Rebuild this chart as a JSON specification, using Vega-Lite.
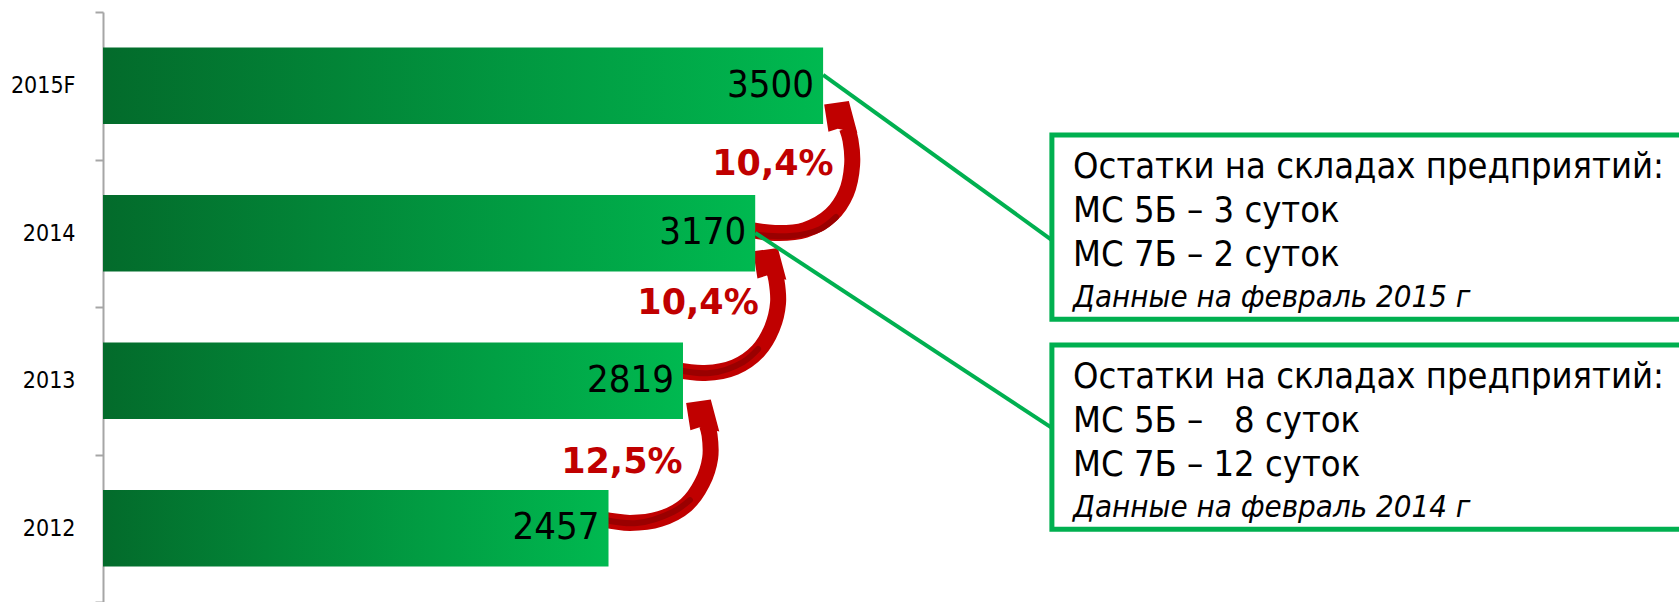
{
  "$schema": "https://vega.github.io/schema/vega-lite/v6.json",
  "width": 1576,
  "height": 590,
  "autosize": {"type": "none"},
  "padding": {"left": 103, "top": 12, "right": 0, "bottom": 0},
  "background": "white",
  "config": {"view": {"stroke": null}, "font": "DejaVu Sans Condensed, DejaVu Sans"},
  "datasets": {
    "bars": [
      {"year": "2015F", "value": 3500},
      {"year": "2014", "value": 3170},
      {"year": "2013", "value": 2819},
      {"year": "2012", "value": 2457}
    ],
    "growth": [
      {"label": "10,4%", "xv": 3256, "yu": 1.031},
      {"label": "10,4%", "xv": 2892, "yu": 1.973},
      {"label": "12,5%", "xv": 2522, "yu": 3.051}
    ],
    "arrows": [
      {"arrow": 1, "step": 0, "xv": 3120, "yu": 1.471},
      {"arrow": 1, "step": 1, "xv": 3266, "yu": 1.498},
      {"arrow": 1, "step": 2, "xv": 3412, "yu": 1.478},
      {"arrow": 1, "step": 3, "xv": 3539, "yu": 1.376},
      {"arrow": 1, "step": 4, "xv": 3612, "yu": 1.227},
      {"arrow": 1, "step": 5, "xv": 3641, "yu": 1.037},
      {"arrow": 1, "step": 6, "xv": 3633, "yu": 0.868},
      {"arrow": 1, "step": 7, "xv": 3616, "yu": 0.786},
      {"arrow": 2, "step": 0, "xv": 2780, "yu": 2.427},
      {"arrow": 2, "step": 1, "xv": 2926, "yu": 2.447},
      {"arrow": 2, "step": 2, "xv": 3072, "yu": 2.407},
      {"arrow": 2, "step": 3, "xv": 3184, "yu": 2.298},
      {"arrow": 2, "step": 4, "xv": 3252, "yu": 2.142},
      {"arrow": 2, "step": 5, "xv": 3281, "yu": 1.973},
      {"arrow": 2, "step": 6, "xv": 3273, "yu": 1.817},
      {"arrow": 2, "step": 7, "xv": 3261, "yu": 1.749},
      {"arrow": 3, "step": 0, "xv": 2416, "yu": 3.437},
      {"arrow": 3, "step": 1, "xv": 2561, "yu": 3.464},
      {"arrow": 3, "step": 2, "xv": 2707, "yu": 3.437},
      {"arrow": 3, "step": 3, "xv": 2834, "yu": 3.342},
      {"arrow": 3, "step": 4, "xv": 2912, "yu": 3.193},
      {"arrow": 3, "step": 5, "xv": 2951, "yu": 3.024},
      {"arrow": 3, "step": 6, "xv": 2948, "yu": 2.868},
      {"arrow": 3, "step": 7, "xv": 2936, "yu": 2.8}
    ],
    "shades": [
      {"arrow": 1, "step": 0, "xv": 3145, "yu": 1.505},
      {"arrow": 1, "step": 1, "xv": 3339, "yu": 1.519},
      {"arrow": 1, "step": 2, "xv": 3485, "yu": 1.472},
      {"arrow": 1, "step": 3, "xv": 3563, "yu": 1.39},
      {"arrow": 2, "step": 0, "xv": 2795, "yu": 2.427},
      {"arrow": 2, "step": 1, "xv": 2950, "yu": 2.448},
      {"arrow": 2, "step": 2, "xv": 3111, "yu": 2.373},
      {"arrow": 2, "step": 3, "xv": 3184, "yu": 2.285},
      {"arrow": 3, "step": 0, "xv": 2440, "yu": 3.444},
      {"arrow": 3, "step": 1, "xv": 2596, "yu": 3.465},
      {"arrow": 3, "step": 2, "xv": 2770, "yu": 3.39},
      {"arrow": 3, "step": 3, "xv": 2853, "yu": 3.309}
    ],
    "heads": [
      {"arrow": 1, "xv": 3592, "yu": 0.719},
      {"arrow": 2, "xv": 3247, "yu": 1.715},
      {"arrow": 3, "xv": 2921, "yu": 2.743}
    ],
    "connectors": [
      {"box": 1, "xv": 3500, "yu": 0.427, "xv2": 4612, "yu2": 1.546},
      {"box": 2, "xv": 3170, "yu": 1.498, "xv2": 4612, "yu2": 2.82}
    ],
    "boxes": [
      {"box": 1, "xv": 4612, "xv2": 8000, "yu": 0.834, "yu2": 2.083},
      {"box": 2, "xv": 4612, "xv2": 8000, "yu": 2.258, "yu2": 3.507}
    ],
    "notes": [
      {"box": 1, "kind": "main", "text": "Остатки на складах предприятий:", "xv": 4715, "yu": 1.127},
      {"box": 1, "kind": "main", "text": "МС 5Б – 3 суток", "xv": 4715, "yu": 1.422},
      {"box": 1, "kind": "main", "text": "МС 7Б – 2 суток", "xv": 4715, "yu": 1.722},
      {"box": 1, "kind": "note", "text": "Данные на февраль 2015 г", "xv": 4715, "yu": 1.998},
      {"box": 2, "kind": "main", "text": "Остатки на складах предприятий:", "xv": 4715, "yu": 2.551},
      {"box": 2, "kind": "main", "text": "МС 5Б –\u00a0\u00a0\u00a08 суток", "xv": 4715, "yu": 2.845},
      {"box": 2, "kind": "main", "text": "МС 7Б – 12 суток", "xv": 4715, "yu": 3.146},
      {"box": 2, "kind": "note", "text": "Данные на февраль 2014 г", "xv": 4715, "yu": 3.422}
    ]
  },
  "layer": [
    {
      "data": {"name": "arrows"},
      "mark": {"type": "line", "interpolate": "catmull-rom", "color": "#C00000", "strokeWidth": 16, "strokeCap": "butt"},
      "encoding": {
        "x": {"field": "xv", "type": "quantitative", "scale": {"domain": [0, 7660], "nice": false, "zero": false}, "axis": null},
        "y": {"field": "yu", "type": "quantitative", "scale": {"domain": [0, 4], "reverse": true, "nice": false, "zero": false}, "axis": null},
        "detail": {"field": "arrow"},
        "order": {"field": "step"}
      }
    },
    {
      "data": {"name": "shades"},
      "mark": {"type": "line", "interpolate": "catmull-rom", "color": "#9A0000", "strokeWidth": 6, "strokeCap": "round"},
      "encoding": {
        "x": {"field": "xv", "type": "quantitative", "scale": {"domain": [0, 7660], "nice": false, "zero": false}, "axis": null},
        "y": {"field": "yu", "type": "quantitative", "scale": {"domain": [0, 4], "reverse": true, "nice": false, "zero": false}, "axis": null},
        "detail": {"field": "arrow"},
        "order": {"field": "step"}
      }
    },
    {
      "data": {"name": "heads"},
      "mark": {"type": "point", "filled": true, "opacity": 1, "color": "#C00000", "size": 1156, "strokeWidth": 0,
               "shape": "M-1.05,-0.8 L0.4,-1 L0.9,0.875 L-0.25,0.625 L-0.8,0.8 Z"},
      "encoding": {
        "x": {"field": "xv", "type": "quantitative", "scale": {"domain": [0, 7660], "nice": false, "zero": false}, "axis": null},
        "y": {"field": "yu", "type": "quantitative", "scale": {"domain": [0, 4], "reverse": true, "nice": false, "zero": false}, "axis": null}
      }
    },
    {
      "data": {"name": "bars"},
      "mark": {"type": "bar", "height": {"band": 0.52},
               "color": {"gradient": "linear", "x1": 0, "x2": 1, "y1": 0, "y2": 0,
                         "stops": [{"offset": 0, "color": "#036B2B"}, {"offset": 1, "color": "#00B950"}]}},
      "encoding": {
        "x": {"field": "value", "type": "quantitative", "scale": {"domain": [0, 7660], "nice": false, "zero": false}, "axis": null},
        "y": {"field": "year", "type": "nominal", "sort": ["2015F", "2014", "2013", "2012"],
              "scale": {"paddingInner": 0, "paddingOuter": 0},
              "axis": {"title": null, "tickBand": "extent", "domainColor": "#A6A6A6", "domainWidth": 2,
                       "tickColor": "#A6A6A6", "tickWidth": 2, "tickSize": 8, "labelPadding": 20,
                       "labelFont": "DejaVu Sans Condensed, DejaVu Sans", "labelFontSize": 23, "labelColor": "#000000", "grid": false}}
      }
    },
    {
      "data": {"name": "bars"},
      "mark": {"type": "text", "align": "right", "baseline": "middle", "dx": -9, "fontSize": 38, "color": "#000000"},
      "encoding": {
        "x": {"field": "value", "type": "quantitative", "scale": {"domain": [0, 7660], "nice": false, "zero": false}, "axis": null},
        "y": {"field": "year", "type": "nominal", "sort": ["2015F", "2014", "2013", "2012"], "scale": {"paddingInner": 0, "paddingOuter": 0}, "axis": null},
        "text": {"field": "value", "type": "quantitative", "format": "d"}
      }
    },
    {
      "data": {"name": "connectors"},
      "mark": {"type": "rule", "color": "#00B050", "strokeWidth": 4},
      "encoding": {
        "x": {"field": "xv", "type": "quantitative", "scale": {"domain": [0, 7660], "nice": false, "zero": false}, "axis": null},
        "y": {"field": "yu", "type": "quantitative", "scale": {"domain": [0, 4], "reverse": true, "nice": false, "zero": false}, "axis": null},
        "x2": {"field": "xv2"},
        "y2": {"field": "yu2"}
      }
    },
    {
      "data": {"name": "boxes"},
      "mark": {"type": "rect", "fill": "#FFFFFF", "stroke": "#00B050", "strokeWidth": 5},
      "encoding": {
        "x": {"field": "xv", "type": "quantitative", "scale": {"domain": [0, 7660], "nice": false, "zero": false}, "axis": null},
        "y": {"field": "yu", "type": "quantitative", "scale": {"domain": [0, 4], "reverse": true, "nice": false, "zero": false}, "axis": null},
        "x2": {"field": "xv2"},
        "y2": {"field": "yu2"}
      }
    },
    {
      "data": {"name": "notes"},
      "transform": [{"filter": "datum.kind === 'main'"}],
      "mark": {"type": "text", "align": "left", "baseline": "alphabetic", "fontSize": 36, "color": "#000000"},
      "encoding": {
        "x": {"field": "xv", "type": "quantitative", "scale": {"domain": [0, 7660], "nice": false, "zero": false}, "axis": null},
        "y": {"field": "yu", "type": "quantitative", "scale": {"domain": [0, 4], "reverse": true, "nice": false, "zero": false}, "axis": null},
        "text": {"field": "text"}
      }
    },
    {
      "data": {"name": "notes"},
      "transform": [{"filter": "datum.kind === 'note'"}],
      "mark": {"type": "text", "align": "left", "baseline": "alphabetic", "fontSize": 31, "fontStyle": "italic", "color": "#000000"},
      "encoding": {
        "x": {"field": "xv", "type": "quantitative", "scale": {"domain": [0, 7660], "nice": false, "zero": false}, "axis": null},
        "y": {"field": "yu", "type": "quantitative", "scale": {"domain": [0, 4], "reverse": true, "nice": false, "zero": false}, "axis": null},
        "text": {"field": "text"}
      }
    },
    {
      "data": {"name": "growth"},
      "mark": {"type": "text", "align": "center", "baseline": "middle", "font": "DejaVu Sans", "fontSize": 35, "fontWeight": "bold", "color": "#C00000"},
      "encoding": {
        "x": {"field": "xv", "type": "quantitative", "scale": {"domain": [0, 7660], "nice": false, "zero": false}, "axis": null},
        "y": {"field": "yu", "type": "quantitative", "scale": {"domain": [0, 4], "reverse": true, "nice": false, "zero": false}, "axis": null},
        "text": {"field": "label"}
      }
    }
  ],
  "resolve": {"scale": {"y": "independent"}}
}
